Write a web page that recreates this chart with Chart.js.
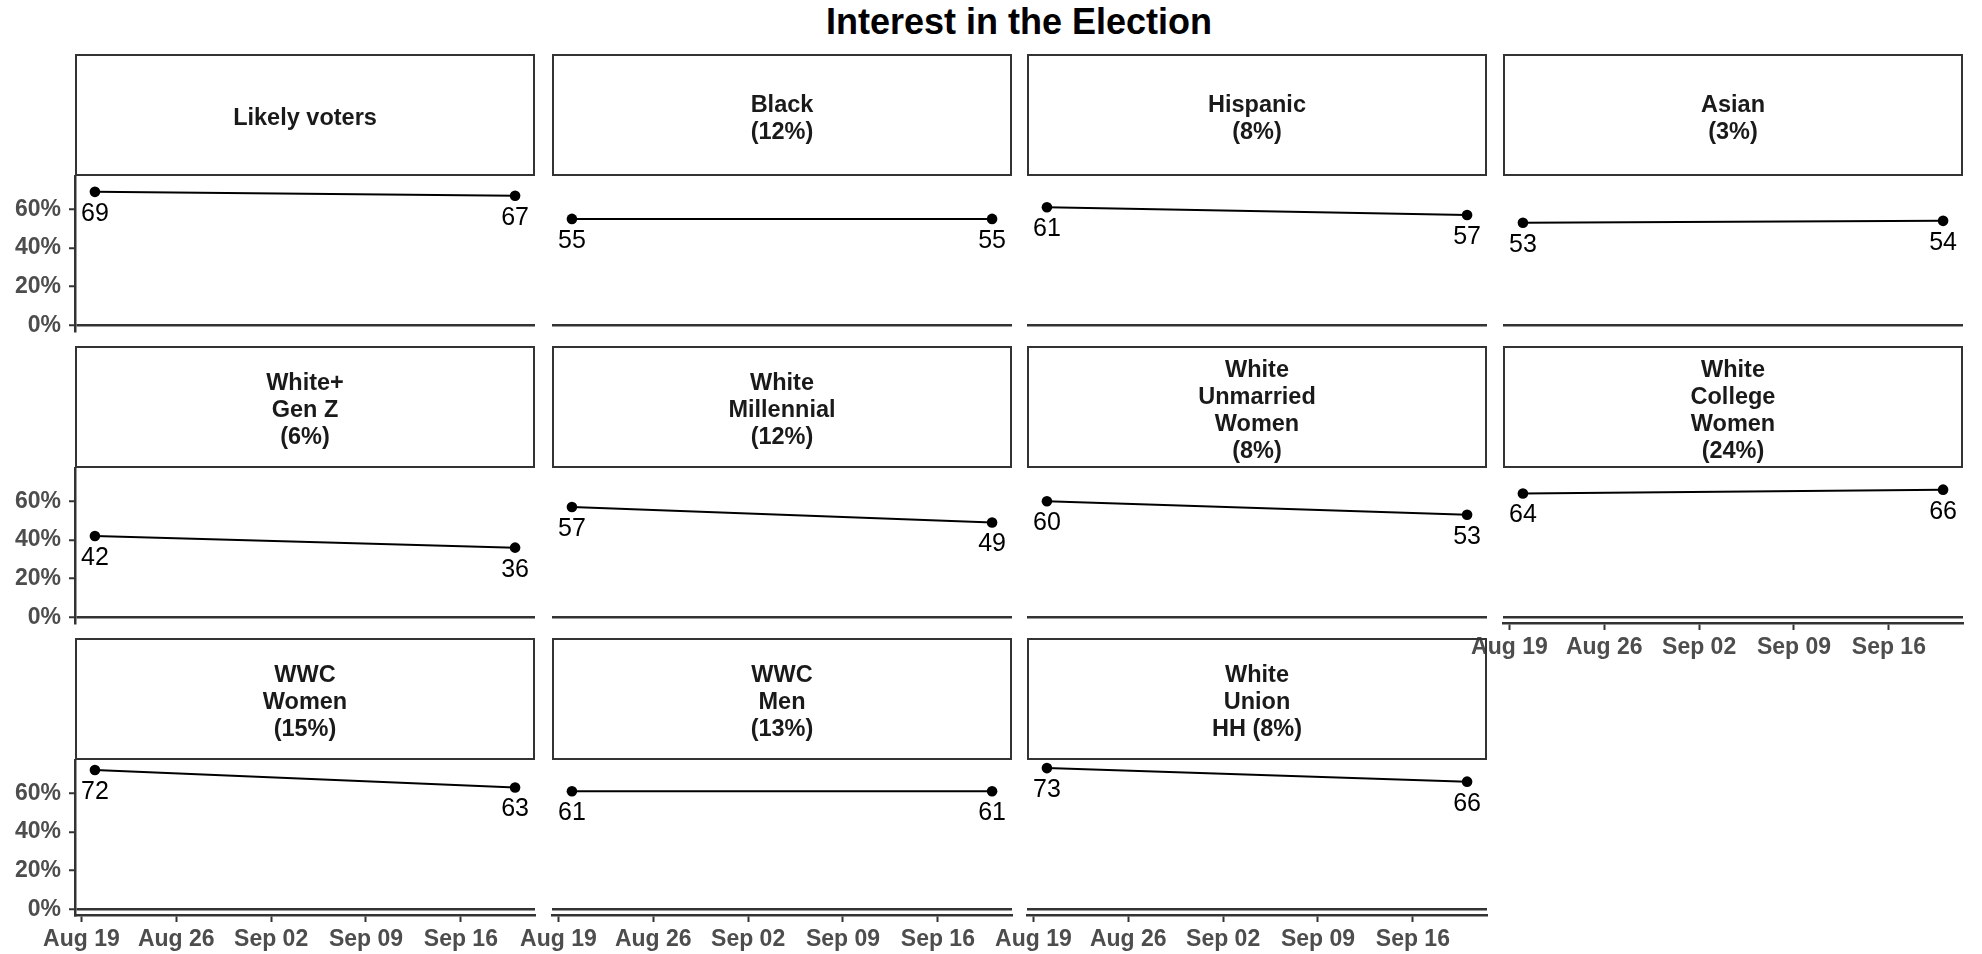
<!DOCTYPE html>
<html>
<head>
<meta charset="utf-8">
<script src="https://cdn.jsdelivr.net/npm/chart.js@4.4.1/dist/chart.umd.min.js"></script>
<style>
  body { margin: 0; background: #fff; width: 1982px; height: 954px; overflow: hidden; position: relative;
         font-family: "Liberation Sans", Arial, sans-serif; }
  #title { position: absolute; left: 75px; width: 1888px; top: 0; line-height: 43px; text-align: center;
           font-size: 36px; font-weight: bold; color: #000; }
  .strip { position: absolute; box-sizing: border-box; border: 2px solid #333; display: flex;
           align-items: center; justify-content: center; text-align: center; font-weight: bold;
           font-size: 23.5px; line-height: 27px; color: #1a1a1a; z-index: 2; padding-top: 5px; }
  canvas { position: absolute; z-index: 1; }
</style>
</head>
<body>
<div id="title">Interest in the Election</div>
<script>
// facet labels (one line per entry)
const groupLabels = [
  ['Likely voters'],
  ['Black', '(12%)'],
  ['Hispanic', '(8%)'],
  ['Asian', '(3%)'],
  ['White+', 'Gen Z', '(6%)'],
  ['White', 'Millennial', '(12%)'],
  ['White', 'Unmarried', 'Women', '(8%)'],
  ['White', 'College', 'Women', '(24%)'],
  ['WWC', 'Women', '(15%)'],
  ['WWC', 'Men', '(13%)'],
  ['White', 'Union', 'HH (8%)']
];
// % interested, first and second wave
const augValues = [69, 55, 61, 53, 42, 57, 60, 64, 72, 61, 73];
const sepValues = [67, 55, 57, 54, 36, 49, 53, 66, 63, 61, 66];
// poll dates, in days after Aug 19
const pollDays = [1, 32];
const xTickValues = [0, 7, 14, 21, 28];
const xTickLabels = ['Aug 19', 'Aug 26', 'Sep 02', 'Sep 09', 'Sep 16'];
const yTickValues = [0, 20, 40, 60];

// layout
const COL_LEFT = [75, 552, 1027, 1503];
const COL_W = 460;
const ROW_TOP = [54, 346, 638];
const STRIP_H = 122;
const PANEL_H = 155;
const AXIS_W = 80, AXIS_H = 50, PAD_T = 12, PAD_R = 20;

const FONT = '"Liberation Sans", Arial, sans-serif';
Chart.defaults.font.family = FONT;

const valueLabels = {
  id: 'valueLabels',
  afterDatasetsDraw(chart) {
    const ctx = chart.ctx;
    const ds = chart.data.datasets[0];
    const meta = chart.getDatasetMeta(0);
    ctx.save();
    ctx.font = '25px ' + FONT;
    ctx.fillStyle = '#000';
    ctx.textAlign = 'center';
    ctx.textBaseline = 'middle';
    meta.data.forEach(function(pt, k) {
      ctx.fillText(ds.data[k].y, pt.x, pt.y + 22);
    });
    ctx.restore();
  }
};

function makePanel(i) {
  const col = i % 4, row = Math.floor(i / 4);
  const showY = col === 0;
  const showX = i >= 7;

  const strip = document.createElement('div');
  strip.className = 'strip';
  strip.style.left = COL_LEFT[col] + 'px';
  strip.style.top = ROW_TOP[row] + 'px';
  strip.style.width = COL_W + 'px';
  strip.style.height = STRIP_H + 'px';
  strip.innerHTML = '<div>' + groupLabels[i].join('<br>') + '</div>';
  document.body.appendChild(strip);

  const canvas = document.createElement('canvas');
  canvas.width = AXIS_W + COL_W + PAD_R;
  canvas.height = PAD_T + PANEL_H + AXIS_H;
  canvas.style.left = (COL_LEFT[col] - AXIS_W) + 'px';
  canvas.style.top = (ROW_TOP[row] + STRIP_H - PAD_T) + 'px';
  document.body.appendChild(canvas);

  new Chart(canvas, {
    type: 'line',
    data: {
      datasets: [{
        data: [{ x: pollDays[0], y: augValues[i] }, { x: pollDays[1], y: sepValues[i] }],
        borderColor: '#000',
        borderWidth: 2,
        pointRadius: 5.3,
        pointBackgroundColor: '#000',
        pointBorderWidth: 0,
        tension: 0,
        clip: false
      }]
    },
    options: {
      responsive: false,
      animation: false,
      layout: { autoPadding: false, padding: { top: PAD_T, right: PAD_R, left: 0, bottom: 0 } },
      plugins: { legend: { display: false }, tooltip: { enabled: false } },
      scales: {
        x: {
          type: 'linear',
          min: -0.47,
          max: 33.47,
          afterBuildTicks: function(s) { s.ticks = xTickValues.map(v => ({ value: v })); },
          afterFit: function(s) { s.height = AXIS_H; s.paddingLeft = 0; s.paddingRight = 0; },
          border: { display: showX, color: '#333', width: 2.5 },
          grid: { display: showX, drawOnChartArea: false, drawTicks: true, tickLength: 7, tickColor: '#333', tickWidth: 2 },
          ticks: {
            display: showX,
            maxRotation: 0,
            autoSkip: false,
            padding: 4,
            color: '#4d4d4d',
            font: { size: 23, weight: 'bold' },
            callback: function(v) { return xTickLabels[xTickValues.indexOf(v)]; }
          }
        },
        y: {
          min: -3,
          max: 77.2,
          afterBuildTicks: function(s) { s.ticks = yTickValues.map(v => ({ value: v })); },
          afterFit: function(s) { s.width = AXIS_W; s.paddingTop = 0; s.paddingBottom = 0; },
          border: { display: showY, color: '#333', width: 2.5 },
          grid: {
            display: true,
            drawTicks: showY,
            tickLength: 6,
            tickColor: '#333',
            tickWidth: 2,
            lineWidth: 2.5,
            color: function(c) { return c.tick && c.tick.value === 0 ? '#333' : 'rgba(0,0,0,0)'; }
          },
          ticks: {
            display: showY,
            padding: 8,
            color: '#4d4d4d',
            font: { size: 23, weight: 'bold' },
            callback: function(v) { return v + '%'; }
          }
        }
      }
    },
    plugins: [valueLabels]
  });
}

for (let i = 0; i < groupLabels.length; i++) makePanel(i);
</script>
</body>
</html>
